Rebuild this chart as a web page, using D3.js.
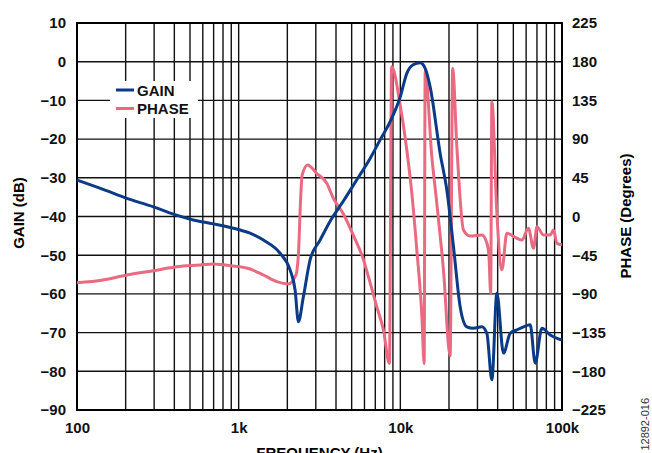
<!DOCTYPE html>
<html>
<head>
<meta charset="utf-8">
<script src="https://cdn.jsdelivr.net/npm/d3@7/dist/d3.min.js"></script>
<style>
  html, body { margin: 0; padding: 0; background: #fff; }
  svg { display: block; }
  text { font-family: "Liberation Sans", Arial, Helvetica, sans-serif; }
</style>
</head>
<body>
<svg id="chart" width="652" height="453"></svg>
<script>
// Frequency response: gain (dB) and phase (degrees) versus frequency (Hz)
const gainFreq = [100, 145, 203, 297, 394, 524, 697, 1020, 1176, 1422, 1804, 2080, 2234, 2341,
  2514, 2766, 3189, 3678, 4445, 5380, 6503, 7499, 8648, 9970, 10970, 12000, 13260, 14240,
  15290, 17630, 19400, 21320, 23440, 25790, 28350, 31940, 34300, 36830, 39550, 43450,
  47800, 52590, 57790, 63570, 68280, 75090, 84530, 100000];
const gainDb = [-30.6, -33.0, -35.3, -37.5, -39.4, -40.9, -41.9, -43.5, -44.3, -46.1, -49.5, -53.8, -59.0, -67.2,
  -60.7, -51.2, -46.1, -41.2, -36.0, -30.5, -25.0, -20.2, -15.5, -9.2, -3.0, -0.8, -0.3, -1.7,
  -6.5, -23.7, -33.2, -47.8, -63.3, -68.5, -68.9, -68.5, -70.2, -82.2, -59.8, -75.3,
  -70.2, -69.3, -68.5, -68.0, -77.9, -68.9, -70.6, -71.9];

const phaseFreq = [100, 145, 203, 297, 414, 577, 697, 927, 1176, 1422, 1721, 2030, 2234, 2282, 2348,
  2416, 2469, 2669, 3043, 3509, 3855, 4445, 5127, 5911, 6347, 7154, 7862, 8560, 8835,
  9970, 10970, 11780, 12650, 13590, 14040, 14240, 15660, 16820, 18480, 20330, 21070,
  22370, 24580, 27030, 31940, 34300, 35300, 36210, 36830, 39550, 42480, 45600, 52590,
  56490, 62030, 66630, 69940, 76840, 84530, 88590, 93000, 100000];
const phaseDeg = [-77, -73.8, -68, -63, -58.4, -56.4, -55.2, -57.6, -61, -68, -75.8, -78.5, -70, -65, -40,
  20, 48, 60, 50, 38.6, 21, 3, -22, -50, -70, -105, -132, -171, 174,
  130, 77, 27, -39, -116, -171, 169, 69.5, 15, -62, -162, 172,
  81, -15.7, -22.7, -21.5, -31, -45, -89, 133.5, 3.7, -62, -19.5, -25.3,
  -27.3, -13.7, -37, -12, -21.5, -21.5, -15.7, -31, -33];

const gainTicks = [10, 0, -10, -20, -30, -40, -50, -60, -70, -80, -90];
const phaseTicks = [225, 180, 135, 90, 45, 0, -45, -90, -135, -180, -225];
const freqTicks = [100, 1000, 10000, 100000];
const freqTickLabels = ["100", "1k", "10k", "100k"];
const seriesNames = ["GAIN", "PHASE"];

const colors = { gain: "#0b3a86", phase: "#ea6a82" };

const svg = d3.select("#chart");
const plotLeft = 77, plotRight = 562, plotTop = 23, plotBottom = 410;

const x = d3.scaleLog().domain([100, 100000]).range([plotLeft, plotRight]);
const yGain = d3.scaleLinear().domain([-90, 10]).range([plotBottom, plotTop]);
const yPhase = d3.scaleLinear().domain([-225, 225]).range([plotBottom, plotTop]);

const minus = v => (v < 0 ? "\u2212" + Math.abs(v) : String(v));

// Grid
const grid = svg.append("g").attr("stroke", "#111").attr("stroke-width", 1.4);
grid.selectAll("line.v").data(x.ticks()).join("line")
  .attr("class", "v")
  .attr("x1", d => x(d)).attr("x2", d => x(d))
  .attr("y1", plotTop).attr("y2", plotBottom);
grid.selectAll("line.h").data(gainTicks).join("line")
  .attr("class", "h")
  .attr("x1", plotLeft).attr("x2", plotRight)
  .attr("y1", d => yGain(d)).attr("y2", d => yGain(d));

// Plot frame
svg.append("rect")
  .attr("x", plotLeft).attr("y", plotTop)
  .attr("width", plotRight - plotLeft).attr("height", plotBottom - plotTop)
  .attr("fill", "none").attr("stroke", "#000").attr("stroke-width", 2);

// Axes
const axisFont = g => {
  g.select(".domain").remove();
  g.selectAll("text").attr("font-size", 15).attr("font-weight", "bold").attr("fill", "#111")
    .attr("font-family", "Liberation Sans, Arial, sans-serif");
};
svg.append("g").attr("transform", `translate(${plotLeft},0)`)
  .call(d3.axisLeft(yGain).tickValues(gainTicks).tickSize(0).tickPadding(11).tickFormat(minus))
  .call(axisFont);
svg.append("g").attr("transform", `translate(${plotRight},0)`)
  .call(d3.axisRight(yPhase).tickValues(phaseTicks).tickSize(0).tickPadding(10).tickFormat(minus))
  .call(axisFont);
svg.append("g").attr("transform", `translate(0,${plotBottom})`)
  .call(d3.axisBottom(x).tickValues(freqTicks).tickSize(0).tickPadding(12)
    .tickFormat((d, i) => freqTickLabels[i]))
  .call(axisFont);

// Axis titles
svg.append("text").attr("transform", `translate(24,213) rotate(-90)`)
  .attr("text-anchor", "middle").attr("font-size", 15).attr("font-weight", "bold")
  .text("GAIN (dB)");
svg.append("text").attr("transform", `translate(631,216) rotate(-90)`)
  .attr("text-anchor", "middle").attr("font-size", 15).attr("font-weight", "bold")
  .text("PHASE (Degrees)");
svg.append("text").attr("x", (plotLeft + plotRight) / 2).attr("y", 458)
  .attr("text-anchor", "middle").attr("font-size", 15).attr("font-weight", "bold")
  .text("FREQUENCY (Hz)");
svg.append("text").attr("transform", `translate(649,398) rotate(-90)`)
  .attr("text-anchor", "end").attr("font-size", 11).attr("fill", "#333")
  .text("12892-016");

// Curves
const gainData = gainFreq.map((f, i) => [f, gainDb[i]]);
const phaseData = phaseFreq.map((f, i) => [f, phaseDeg[i]]);

svg.append("path").datum(phaseData)
  .attr("fill", "none").attr("stroke", colors.phase).attr("stroke-width", 3)
  .attr("stroke-linejoin", "round")
  .attr("d", d3.line().x(d => x(d[0])).y(d => yPhase(d[1])).curve(d3.curveMonotoneX));

svg.append("path").datum(gainData)
  .attr("fill", "none").attr("stroke", colors.gain).attr("stroke-width", 3)
  .attr("stroke-linejoin", "round")
  .attr("d", d3.line().x(d => x(d[0])).y(d => yGain(d[1])).curve(d3.curveMonotoneX));

// Legend
const legend = svg.append("g");
legend.append("rect").attr("x", 110).attr("y", 81).attr("width", 88).attr("height", 37).attr("fill", "#fff");
[colors.gain, colors.phase].forEach((c, i) => {
  const cy = 90 + i * 18.5;
  legend.append("line").attr("x1", 116).attr("x2", 134).attr("y1", cy).attr("y2", cy)
    .attr("stroke", c).attr("stroke-width", 3);
  legend.append("text").attr("x", 137).attr("y", cy + 5.5)
    .attr("font-size", 15).attr("font-weight", "bold").attr("fill", "#111")
    .text(seriesNames[i]);
});
</script>
</body>
</html>
